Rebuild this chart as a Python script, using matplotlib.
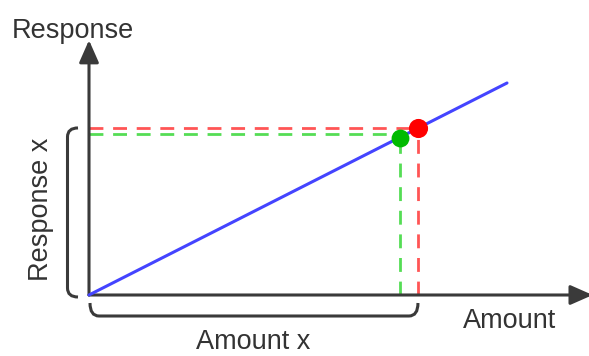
import matplotlib
matplotlib.use("Agg")
import matplotlib.pyplot as plt
from matplotlib.path import Path
from matplotlib.patches import PathPatch

#%% Data (schematic units)

line_amount = [0.0, 10.0]
line_response = [0.0, 5.0]

green_amount = 7.44
green_response = 3.70
red_amount = 7.87
red_response = 3.94

axis_x_end = 12.05
axis_y_end = 6.01

axis_labels = ["Amount", "Response"]
brace_labels = ["Amount x", "Response x"]

#%% Figure

# pixel scale of one unit, and where the origin sits in the 589x356 picture
px_x, px_y = 41.8, 42.4
ox, oy = 89, 295

fig = plt.figure(figsize=(5.89, 3.56), dpi=100)
ax = fig.add_axes([0, 0, 1, 1])
ax.set_axis_off()
ax.set_xlim(-ox / px_x, (589 - ox) / px_x)
ax.set_ylim(-(356 - oy) / px_y, oy / px_y)

def dx(p):
    return p / px_x

def dy(p):
    return p / px_y

axis_col = "#3a3a3a"
text_col = "#333333"
font = dict(family="Liberation Sans", size=19.5, color=text_col)

# axes with arrow heads
arrow = dict(arrowstyle="-|>,head_length=0.68,head_width=0.3", mutation_scale=20,
             lw=2.2, color=axis_col, shrinkA=0, shrinkB=0)
ax.annotate("", xy=(axis_x_end, 0), xytext=(0, 0), arrowprops=arrow, annotation_clip=False)
ax.annotate("", xy=(0, axis_y_end), xytext=(0, 0), arrowprops=arrow, annotation_clip=False)

# guide lines
dash = (0, (5, 3.5))
ax.plot([0, red_amount], [red_response, red_response], color="#ff5555", lw=2, linestyle=dash, zorder=2)
ax.plot([red_amount, red_amount], [0, red_response], color="#ff5555", lw=2, linestyle=dash, zorder=2)
ax.plot([0, green_amount], [green_response + 0.1, green_response + 0.1], color="#55dd55", lw=2,
        linestyle=dash, zorder=2)
ax.plot([green_amount, green_amount], [0, green_response], color="#55dd55", lw=2, linestyle=dash, zorder=2)

# response line
ax.plot(line_amount, line_response, color="#4444ff", lw=2.2, solid_capstyle="round", zorder=3)

# points
ax.scatter([green_amount], [green_response], s=165, color="#00bb00", zorder=4, linewidths=0)
ax.scatter([red_amount], [red_response], s=190, color="#ff0000", zorder=4, linewidths=0)

# left bracket (spans response of red point)
xv, xe = dx(67.5 - ox), dx(78 - ox)
yt, yb = red_response, dy(-2)
r = dy(9)
verts = [(xe, yt), (xv, yt), (xv, yt - r), (xv, yb + r), (xv, yb), (xe, yb)]
codes = [Path.MOVETO, Path.CURVE3, Path.CURVE3, Path.LINETO, Path.CURVE3, Path.CURVE3]
ax.add_patch(PathPatch(Path(verts, codes), fill=False, lw=2.2, edgecolor=axis_col))

# bottom bracket (spans amount of red point)
yh, ye = dy(295 - 316), dy(295 - 303)
xl, xr = dx(1), red_amount
rr = dx(9)
verts = [(xl, ye), (xl, yh), (xl + rr, yh), (xr - rr, yh), (xr, yh), (xr, ye)]
ax.add_patch(PathPatch(Path(verts, codes), fill=False, lw=2.2, edgecolor=axis_col))

# labels
ax.text(dx(12 - ox), dy(oy - 38), axis_labels[1], ha="left", va="baseline", **font)
ax.text(dx(463 - ox), dy(oy - 328), axis_labels[0], ha="left", va="baseline", **font)
ax.text(dx(196 - ox), dy(oy - 349), brace_labels[0], ha="left", va="baseline", **font)
ax.text(dx(41 - ox), dy(oy - 209), brace_labels[1], ha="center", va="center", rotation=90, **font)

fig.savefig("out.png", dpi=100)
